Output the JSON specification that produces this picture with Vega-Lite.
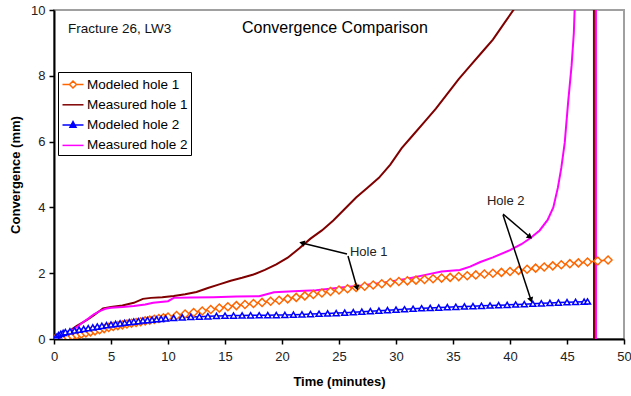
{
  "$schema": "https://vega.github.io/schema/vega-lite/v6.json",
  "width": 570,
  "height": 329,
  "autosize": {"type": "none"},
  "padding": {"left": 54, "top": 10, "right": 7, "bottom": 57},
  "config": {
    "font": "Liberation Sans",
    "view": {"stroke": "#a0a0a0", "strokeWidth": 2}
  },
  "datasets": {
    "curves": [
      {"series": "Measured hole 1", "t": 0, "mm": 0},
      {"series": "Measured hole 1", "t": 0.5, "mm": 0.08},
      {"series": "Measured hole 1", "t": 1, "mm": 0.18},
      {"series": "Measured hole 1", "t": 1.5, "mm": 0.28},
      {"series": "Measured hole 1", "t": 2, "mm": 0.4},
      {"series": "Measured hole 1", "t": 2.5, "mm": 0.5},
      {"series": "Measured hole 1", "t": 3, "mm": 0.6},
      {"series": "Measured hole 1", "t": 3.5, "mm": 0.72},
      {"series": "Measured hole 1", "t": 4, "mm": 0.85},
      {"series": "Measured hole 1", "t": 4.3, "mm": 0.93},
      {"series": "Measured hole 1", "t": 5, "mm": 0.97},
      {"series": "Measured hole 1", "t": 6, "mm": 1.02},
      {"series": "Measured hole 1", "t": 7, "mm": 1.1},
      {"series": "Measured hole 1", "t": 7.8, "mm": 1.22},
      {"series": "Measured hole 1", "t": 8.5, "mm": 1.25},
      {"series": "Measured hole 1", "t": 9.5, "mm": 1.27},
      {"series": "Measured hole 1", "t": 10.5, "mm": 1.31},
      {"series": "Measured hole 1", "t": 11.5, "mm": 1.36},
      {"series": "Measured hole 1", "t": 12.5, "mm": 1.43},
      {"series": "Measured hole 1", "t": 13.5, "mm": 1.55},
      {"series": "Measured hole 1", "t": 14.5, "mm": 1.66},
      {"series": "Measured hole 1", "t": 15.5, "mm": 1.77},
      {"series": "Measured hole 1", "t": 16.5, "mm": 1.86},
      {"series": "Measured hole 1", "t": 17.5, "mm": 1.96},
      {"series": "Measured hole 1", "t": 18.5, "mm": 2.1},
      {"series": "Measured hole 1", "t": 19.5, "mm": 2.27},
      {"series": "Measured hole 1", "t": 20.5, "mm": 2.47},
      {"series": "Measured hole 1", "t": 21.5, "mm": 2.75},
      {"series": "Measured hole 1", "t": 22.5, "mm": 3.05},
      {"series": "Measured hole 1", "t": 23.5, "mm": 3.3},
      {"series": "Measured hole 1", "t": 24.5, "mm": 3.6},
      {"series": "Measured hole 1", "t": 25.5, "mm": 3.95},
      {"series": "Measured hole 1", "t": 26.5, "mm": 4.3},
      {"series": "Measured hole 1", "t": 27.5, "mm": 4.6},
      {"series": "Measured hole 1", "t": 28.5, "mm": 4.9},
      {"series": "Measured hole 1", "t": 29.5, "mm": 5.3},
      {"series": "Measured hole 1", "t": 30.5, "mm": 5.8},
      {"series": "Measured hole 1", "t": 31.5, "mm": 6.2},
      {"series": "Measured hole 1", "t": 32.5, "mm": 6.6},
      {"series": "Measured hole 1", "t": 33.5, "mm": 7.0},
      {"series": "Measured hole 1", "t": 34.5, "mm": 7.45},
      {"series": "Measured hole 1", "t": 35.5, "mm": 7.9},
      {"series": "Measured hole 1", "t": 36.5, "mm": 8.3},
      {"series": "Measured hole 1", "t": 37.5, "mm": 8.7},
      {"series": "Measured hole 1", "t": 38.5, "mm": 9.1},
      {"series": "Measured hole 1", "t": 39.5, "mm": 9.6},
      {"series": "Measured hole 1", "t": 40.5, "mm": 10.1},
      {"series": "Measured hole 1", "t": 41.5, "mm": 10.6},
      {"series": "Measured hole 1", "t": 47.36, "mm": 14},
      {"series": "Measured hole 1", "t": 47.37, "mm": -1},

      {"series": "Measured hole 2", "t": 0, "mm": 0},
      {"series": "Measured hole 2", "t": 0.5, "mm": 0.07},
      {"series": "Measured hole 2", "t": 1, "mm": 0.15},
      {"series": "Measured hole 2", "t": 1.5, "mm": 0.25},
      {"series": "Measured hole 2", "t": 2, "mm": 0.36},
      {"series": "Measured hole 2", "t": 2.5, "mm": 0.5},
      {"series": "Measured hole 2", "t": 3, "mm": 0.62},
      {"series": "Measured hole 2", "t": 3.5, "mm": 0.75},
      {"series": "Measured hole 2", "t": 4, "mm": 0.85},
      {"series": "Measured hole 2", "t": 4.5, "mm": 0.92},
      {"series": "Measured hole 2", "t": 5, "mm": 0.95},
      {"series": "Measured hole 2", "t": 6, "mm": 0.97},
      {"series": "Measured hole 2", "t": 7, "mm": 1.0},
      {"series": "Measured hole 2", "t": 8, "mm": 1.05},
      {"series": "Measured hole 2", "t": 8.7, "mm": 1.1},
      {"series": "Measured hole 2", "t": 10, "mm": 1.15},
      {"series": "Measured hole 2", "t": 10.5, "mm": 1.25},
      {"series": "Measured hole 2", "t": 12, "mm": 1.26},
      {"series": "Measured hole 2", "t": 14, "mm": 1.27},
      {"series": "Measured hole 2", "t": 16, "mm": 1.29},
      {"series": "Measured hole 2", "t": 18, "mm": 1.3},
      {"series": "Measured hole 2", "t": 19.3, "mm": 1.42},
      {"series": "Measured hole 2", "t": 21, "mm": 1.45},
      {"series": "Measured hole 2", "t": 23, "mm": 1.48},
      {"series": "Measured hole 2", "t": 25, "mm": 1.56},
      {"series": "Measured hole 2", "t": 27, "mm": 1.63},
      {"series": "Measured hole 2", "t": 29, "mm": 1.72},
      {"series": "Measured hole 2", "t": 31, "mm": 1.83},
      {"series": "Measured hole 2", "t": 33, "mm": 1.98},
      {"series": "Measured hole 2", "t": 34, "mm": 2.05},
      {"series": "Measured hole 2", "t": 35.6, "mm": 2.1},
      {"series": "Measured hole 2", "t": 36.5, "mm": 2.2},
      {"series": "Measured hole 2", "t": 37.4, "mm": 2.34},
      {"series": "Measured hole 2", "t": 38.5, "mm": 2.48},
      {"series": "Measured hole 2", "t": 40, "mm": 2.7},
      {"series": "Measured hole 2", "t": 41, "mm": 2.88},
      {"series": "Measured hole 2", "t": 41.8, "mm": 3.07},
      {"series": "Measured hole 2", "t": 42.6, "mm": 3.3},
      {"series": "Measured hole 2", "t": 43.3, "mm": 3.62},
      {"series": "Measured hole 2", "t": 43.8, "mm": 4.0},
      {"series": "Measured hole 2", "t": 44.2, "mm": 4.6},
      {"series": "Measured hole 2", "t": 44.5, "mm": 5.2},
      {"series": "Measured hole 2", "t": 44.8, "mm": 5.96},
      {"series": "Measured hole 2", "t": 45.1, "mm": 7.2},
      {"series": "Measured hole 2", "t": 45.4, "mm": 8.3},
      {"series": "Measured hole 2", "t": 45.6, "mm": 9.3},
      {"series": "Measured hole 2", "t": 45.7, "mm": 10.3},
      {"series": "Measured hole 2", "t": 47.53, "mm": 30},
      {"series": "Measured hole 2", "t": 47.54, "mm": -1},

      {"series": "Modeled hole 1", "t": 0, "mm": 0},
      {"series": "Modeled hole 1", "t": 0.4, "mm": 0.02},
      {"series": "Modeled hole 1", "t": 0.8, "mm": 0.04},
      {"series": "Modeled hole 1", "t": 1.2, "mm": 0.064},
      {"series": "Modeled hole 1", "t": 1.6, "mm": 0.092},
      {"series": "Modeled hole 1", "t": 2.0, "mm": 0.12},
      {"series": "Modeled hole 1", "t": 2.4, "mm": 0.152},
      {"series": "Modeled hole 1", "t": 2.8, "mm": 0.184},
      {"series": "Modeled hole 1", "t": 3.2, "mm": 0.216},
      {"series": "Modeled hole 1", "t": 3.6, "mm": 0.248},
      {"series": "Modeled hole 1", "t": 4.0, "mm": 0.28},
      {"series": "Modeled hole 1", "t": 4.4, "mm": 0.316},
      {"series": "Modeled hole 1", "t": 4.8, "mm": 0.352},
      {"series": "Modeled hole 1", "t": 5.2, "mm": 0.382},
      {"series": "Modeled hole 1", "t": 5.6, "mm": 0.406},
      {"series": "Modeled hole 1", "t": 6.0, "mm": 0.43},
      {"series": "Modeled hole 1", "t": 6.4, "mm": 0.454},
      {"series": "Modeled hole 1", "t": 6.8, "mm": 0.478},
      {"series": "Modeled hole 1", "t": 7.2, "mm": 0.502},
      {"series": "Modeled hole 1", "t": 7.6, "mm": 0.526},
      {"series": "Modeled hole 1", "t": 8.0, "mm": 0.55},
      {"series": "Modeled hole 1", "t": 8.4, "mm": 0.574},
      {"series": "Modeled hole 1", "t": 8.8, "mm": 0.598},
      {"series": "Modeled hole 1", "t": 9.2, "mm": 0.622},
      {"series": "Modeled hole 1", "t": 9.6, "mm": 0.646},
      {"series": "Modeled hole 1", "t": 10.0, "mm": 0.67},
      {"series": "Modeled hole 1", "t": 10.75, "mm": 0.715},
      {"series": "Modeled hole 1", "t": 11.5, "mm": 0.76},
      {"series": "Modeled hole 1", "t": 12.25, "mm": 0.805},
      {"series": "Modeled hole 1", "t": 13.0, "mm": 0.85},
      {"series": "Modeled hole 1", "t": 13.75, "mm": 0.895},
      {"series": "Modeled hole 1", "t": 14.5, "mm": 0.94},
      {"series": "Modeled hole 1", "t": 15.25, "mm": 0.981},
      {"series": "Modeled hole 1", "t": 16.0, "mm": 1.015},
      {"series": "Modeled hole 1", "t": 16.75, "mm": 1.049},
      {"series": "Modeled hole 1", "t": 17.5, "mm": 1.08},
      {"series": "Modeled hole 1", "t": 18.25, "mm": 1.112},
      {"series": "Modeled hole 1", "t": 19.0, "mm": 1.147},
      {"series": "Modeled hole 1", "t": 19.75, "mm": 1.179},
      {"series": "Modeled hole 1", "t": 20.5, "mm": 1.22},
      {"series": "Modeled hole 1", "t": 21.25, "mm": 1.265},
      {"series": "Modeled hole 1", "t": 22.0, "mm": 1.31},
      {"series": "Modeled hole 1", "t": 22.75, "mm": 1.355},
      {"series": "Modeled hole 1", "t": 23.5, "mm": 1.4},
      {"series": "Modeled hole 1", "t": 24.25, "mm": 1.445},
      {"series": "Modeled hole 1", "t": 25.0, "mm": 1.49},
      {"series": "Modeled hole 1", "t": 25.75, "mm": 1.528},
      {"series": "Modeled hole 1", "t": 26.5, "mm": 1.565},
      {"series": "Modeled hole 1", "t": 27.25, "mm": 1.602},
      {"series": "Modeled hole 1", "t": 28.0, "mm": 1.64},
      {"series": "Modeled hole 1", "t": 28.75, "mm": 1.678},
      {"series": "Modeled hole 1", "t": 29.5, "mm": 1.715},
      {"series": "Modeled hole 1", "t": 30.25, "mm": 1.747},
      {"series": "Modeled hole 1", "t": 31.0, "mm": 1.768},
      {"series": "Modeled hole 1", "t": 31.75, "mm": 1.789},
      {"series": "Modeled hole 1", "t": 32.5, "mm": 1.81},
      {"series": "Modeled hole 1", "t": 33.25, "mm": 1.831},
      {"series": "Modeled hole 1", "t": 34.0, "mm": 1.852},
      {"series": "Modeled hole 1", "t": 34.75, "mm": 1.873},
      {"series": "Modeled hole 1", "t": 35.5, "mm": 1.897},
      {"series": "Modeled hole 1", "t": 36.25, "mm": 1.923},
      {"series": "Modeled hole 1", "t": 37.0, "mm": 1.948},
      {"series": "Modeled hole 1", "t": 37.75, "mm": 1.974},
      {"series": "Modeled hole 1", "t": 38.5, "mm": 1.999},
      {"series": "Modeled hole 1", "t": 39.25, "mm": 2.025},
      {"series": "Modeled hole 1", "t": 40.0, "mm": 2.05},
      {"series": "Modeled hole 1", "t": 40.75, "mm": 2.085},
      {"series": "Modeled hole 1", "t": 41.5, "mm": 2.119},
      {"series": "Modeled hole 1", "t": 42.25, "mm": 2.154},
      {"series": "Modeled hole 1", "t": 43.0, "mm": 2.188},
      {"series": "Modeled hole 1", "t": 43.75, "mm": 2.223},
      {"series": "Modeled hole 1", "t": 44.5, "mm": 2.257},
      {"series": "Modeled hole 1", "t": 45.25, "mm": 2.29},
      {"series": "Modeled hole 1", "t": 46.0, "mm": 2.313},
      {"series": "Modeled hole 1", "t": 46.8, "mm": 2.34},
      {"series": "Modeled hole 1", "t": 47.7, "mm": 2.37},
      {"series": "Modeled hole 1", "t": 48.6, "mm": 2.4},

      {"series": "Modeled hole 2", "t": 0, "mm": 0},
      {"series": "Modeled hole 2", "t": 0.2, "mm": 0.067},
      {"series": "Modeled hole 2", "t": 0.4, "mm": 0.12},
      {"series": "Modeled hole 2", "t": 0.6, "mm": 0.16},
      {"series": "Modeled hole 2", "t": 0.8, "mm": 0.185},
      {"series": "Modeled hole 2", "t": 1.0, "mm": 0.21},
      {"series": "Modeled hole 2", "t": 1.4, "mm": 0.234},
      {"series": "Modeled hole 2", "t": 1.8, "mm": 0.258},
      {"series": "Modeled hole 2", "t": 2.2, "mm": 0.282},
      {"series": "Modeled hole 2", "t": 2.6, "mm": 0.306},
      {"series": "Modeled hole 2", "t": 3.0, "mm": 0.33},
      {"series": "Modeled hole 2", "t": 3.4, "mm": 0.354},
      {"series": "Modeled hole 2", "t": 3.8, "mm": 0.378},
      {"series": "Modeled hole 2", "t": 4.2, "mm": 0.4},
      {"series": "Modeled hole 2", "t": 4.6, "mm": 0.42},
      {"series": "Modeled hole 2", "t": 5.0, "mm": 0.44},
      {"series": "Modeled hole 2", "t": 5.4, "mm": 0.458},
      {"series": "Modeled hole 2", "t": 5.8, "mm": 0.476},
      {"series": "Modeled hole 2", "t": 6.2, "mm": 0.494},
      {"series": "Modeled hole 2", "t": 6.6, "mm": 0.512},
      {"series": "Modeled hole 2", "t": 7.0, "mm": 0.53},
      {"series": "Modeled hole 2", "t": 7.4, "mm": 0.546},
      {"series": "Modeled hole 2", "t": 7.8, "mm": 0.562},
      {"series": "Modeled hole 2", "t": 8.2, "mm": 0.576},
      {"series": "Modeled hole 2", "t": 8.6, "mm": 0.588},
      {"series": "Modeled hole 2", "t": 9.0, "mm": 0.6},
      {"series": "Modeled hole 2", "t": 9.4, "mm": 0.612},
      {"series": "Modeled hole 2", "t": 9.8, "mm": 0.624},
      {"series": "Modeled hole 2", "t": 10.5, "mm": 0.64},
      {"series": "Modeled hole 2", "t": 11.25, "mm": 0.655},
      {"series": "Modeled hole 2", "t": 12.0, "mm": 0.67},
      {"series": "Modeled hole 2", "t": 12.75, "mm": 0.68},
      {"series": "Modeled hole 2", "t": 13.5, "mm": 0.69},
      {"series": "Modeled hole 2", "t": 14.25, "mm": 0.7},
      {"series": "Modeled hole 2", "t": 15.0, "mm": 0.71},
      {"series": "Modeled hole 2", "t": 15.75, "mm": 0.713},
      {"series": "Modeled hole 2", "t": 16.5, "mm": 0.716},
      {"series": "Modeled hole 2", "t": 17.25, "mm": 0.719},
      {"series": "Modeled hole 2", "t": 18.0, "mm": 0.722},
      {"series": "Modeled hole 2", "t": 18.75, "mm": 0.725},
      {"series": "Modeled hole 2", "t": 19.5, "mm": 0.728},
      {"series": "Modeled hole 2", "t": 20.25, "mm": 0.733},
      {"series": "Modeled hole 2", "t": 21.0, "mm": 0.74},
      {"series": "Modeled hole 2", "t": 21.75, "mm": 0.748},
      {"series": "Modeled hole 2", "t": 22.5, "mm": 0.757},
      {"series": "Modeled hole 2", "t": 23.25, "mm": 0.767},
      {"series": "Modeled hole 2", "t": 24.0, "mm": 0.777},
      {"series": "Modeled hole 2", "t": 24.75, "mm": 0.787},
      {"series": "Modeled hole 2", "t": 25.5, "mm": 0.8},
      {"series": "Modeled hole 2", "t": 26.25, "mm": 0.815},
      {"series": "Modeled hole 2", "t": 27.0, "mm": 0.83},
      {"series": "Modeled hole 2", "t": 27.75, "mm": 0.845},
      {"series": "Modeled hole 2", "t": 28.5, "mm": 0.86},
      {"series": "Modeled hole 2", "t": 29.25, "mm": 0.875},
      {"series": "Modeled hole 2", "t": 30.0, "mm": 0.89},
      {"series": "Modeled hole 2", "t": 30.75, "mm": 0.905},
      {"series": "Modeled hole 2", "t": 31.5, "mm": 0.92},
      {"series": "Modeled hole 2", "t": 32.25, "mm": 0.934},
      {"series": "Modeled hole 2", "t": 33.0, "mm": 0.945},
      {"series": "Modeled hole 2", "t": 33.75, "mm": 0.956},
      {"series": "Modeled hole 2", "t": 34.5, "mm": 0.968},
      {"series": "Modeled hole 2", "t": 35.25, "mm": 0.979},
      {"series": "Modeled hole 2", "t": 36.0, "mm": 0.99},
      {"series": "Modeled hole 2", "t": 36.75, "mm": 0.999},
      {"series": "Modeled hole 2", "t": 37.5, "mm": 1.009},
      {"series": "Modeled hole 2", "t": 38.25, "mm": 1.018},
      {"series": "Modeled hole 2", "t": 39.0, "mm": 1.028},
      {"series": "Modeled hole 2", "t": 39.75, "mm": 1.037},
      {"series": "Modeled hole 2", "t": 40.5, "mm": 1.048},
      {"series": "Modeled hole 2", "t": 41.25, "mm": 1.06},
      {"series": "Modeled hole 2", "t": 42.0, "mm": 1.072},
      {"series": "Modeled hole 2", "t": 42.75, "mm": 1.084},
      {"series": "Modeled hole 2", "t": 43.5, "mm": 1.096},
      {"series": "Modeled hole 2", "t": 44.25, "mm": 1.108},
      {"series": "Modeled hole 2", "t": 45.0, "mm": 1.12},
      {"series": "Modeled hole 2", "t": 45.75, "mm": 1.128},
      {"series": "Modeled hole 2", "t": 46.5, "mm": 1.136},
      {"series": "Modeled hole 2", "t": 46.8, "mm": 1.14}
    ],
    "notes": [
      {"kind": "subtitle", "label": "Fracture 26, LW3", "t": 1.23, "mm": 9.316},
      {"kind": "title", "label": "Convergence Comparison", "t": 16.49, "mm": 9.316},
      {"kind": "callout", "label": "Hole 1", "t": 25.96, "mm": 2.644},
      {"kind": "callout", "label": "Hole 2", "t": 37.98, "mm": 4.19}
    ],
    "arrows": [
      {"arrow": 1, "t": 25.7, "mm": 2.584, "t2": 21.75, "mm2": 2.918},
      {"arrow": 2, "t": 25.79, "mm": 2.523, "t2": 26.58, "mm2": 1.55},
      {"arrow": 3, "t": 39.39, "mm": 3.799, "t2": 41.75, "mm2": 3.1},
      {"arrow": 4, "t": 39.39, "mm": 3.769, "t2": 41.84, "mm2": 1.185}
    ]
  },
  "layer": [
    {
      "data": {"name": "curves"},
      "transform": [{"filter": {"field": "series", "equal": "Measured hole 1"}}],
      "mark": {"type": "line", "strokeWidth": 2, "clip": true, "color": "#800000"},
      "encoding": {
        "x": {
          "field": "t", "type": "quantitative",
          "scale": {"domain": [0, 50], "nice": false},
          "axis": {
            "title": "Time (minutes)", "values": [0, 5, 10, 15, 20, 25, 30, 35, 40, 45, 50],
            "grid": false, "labelFlush": false, "labelFont": "Liberation Sans", "labelFontSize": 13,
            "labelColor": "#222", "labelPadding": 6, "tickSize": 5, "tickColor": "#000", "tickWidth": 1.5,
            "domainColor": "#000", "domainWidth": 2, "titleFont": "Liberation Sans", "titleFontSize": 13,
            "titleFontWeight": "bold", "titleColor": "#000", "titlePadding": 12
          }
        },
        "y": {
          "field": "mm", "type": "quantitative",
          "scale": {"domain": [0, 10], "nice": false},
          "axis": {
            "title": "Convergence (mm)", "values": [0, 2, 4, 6, 8, 10],
            "grid": false, "labelFont": "Liberation Sans", "labelFontSize": 13, "labelColor": "#222",
            "labelPadding": 4, "tickSize": 5, "tickColor": "#000", "tickWidth": 1.5,
            "domainColor": "#000", "domainWidth": 2, "titleFont": "Liberation Sans", "titleFontSize": 13,
            "titleFontWeight": "bold", "titleColor": "#000", "titlePadding": 8
          }
        }
      }
    },
    {
      "data": {"name": "curves"},
      "transform": [{"filter": {"field": "series", "equal": "Measured hole 2"}}],
      "mark": {"type": "line", "strokeWidth": 2, "clip": true, "color": "#FF00FF"},
      "encoding": {
        "x": {"field": "t", "type": "quantitative"},
        "y": {"field": "mm", "type": "quantitative"}
      }
    },
    {
      "data": {"name": "curves"},
      "transform": [{"filter": {"field": "series", "equal": "Modeled hole 1"}}],
      "mark": {"type": "line", "strokeWidth": 1.5, "clip": true, "color": "#FF6600"},
      "encoding": {
        "x": {"field": "t", "type": "quantitative"},
        "y": {"field": "mm", "type": "quantitative"}
      }
    },
    {
      "data": {"name": "curves"},
      "transform": [{"filter": {"field": "series", "equal": "Modeled hole 2"}}],
      "mark": {"type": "line", "strokeWidth": 1.5, "clip": true, "color": "#0000FF"},
      "encoding": {
        "x": {"field": "t", "type": "quantitative"},
        "y": {"field": "mm", "type": "quantitative"}
      }
    },
    {
      "data": {"name": "curves"},
      "transform": [{"filter": {"field": "series", "equal": "Modeled hole 1"}}],
      "mark": {"type": "point", "shape": "diamond", "size": 64, "filled": false, "fill": "#ffffff", "fillOpacity": 1, "stroke": "#FF6600", "strokeWidth": 1.5, "opacity": 1, "clip": true},
      "encoding": {
        "x": {"field": "t", "type": "quantitative"},
        "y": {"field": "mm", "type": "quantitative"}
      }
    },
    {
      "data": {"name": "curves"},
      "transform": [{"filter": {"field": "series", "equal": "Modeled hole 2"}}],
      "mark": {"type": "point", "shape": "triangle-up", "size": 36, "filled": false, "fill": "#ffffff", "fillOpacity": 1, "stroke": "#0000FF", "strokeWidth": 1.5, "opacity": 1, "clip": true},
      "encoding": {
        "x": {"field": "t", "type": "quantitative"},
        "y": {"field": "mm", "type": "quantitative"}
      }
    },
    {
      "description": "Invisible points (one per series at t = 0) that carry the series legend: line swatch plus marker.",
      "data": {"name": "curves"},
      "transform": [{"filter": "datum.t === 0"}],
      "mark": {"type": "point", "filled": false, "opacity": 0},
      "encoding": {
        "x": {"field": "t", "type": "quantitative"},
        "y": {"field": "mm", "type": "quantitative"},
        "color": {
          "field": "series", "type": "nominal",
          "scale": {
            "domain": ["Modeled hole 1", "Measured hole 1", "Modeled hole 2", "Measured hole 2"],
            "range": ["#FF6600", "#800000", "#0000FF", "#FF00FF"]
          },
          "legend": {
            "title": null, "orient": "none", "legendX": 4, "legendY": 62, "direction": "vertical",
            "labelFont": "Liberation Sans", "labelFontSize": 13.5, "labelColor": "#000",
            "symbolSize": 289, "symbolOffset": 2.5, "labelOffset": 4.5, "rowPadding": 4.3, "padding": 3,
            "strokeColor": "#000", "fillColor": "#ffffff", "symbolFillColor": "#ffffff",
            "symbolStrokeWidth": 1.5, "symbolOpacity": 1
          }
        },
        "fill": {
          "field": "series", "type": "nominal",
          "scale": {
            "domain": ["Modeled hole 1", "Measured hole 1", "Modeled hole 2", "Measured hole 2"],
            "range": ["#ffffff", "transparent", "#0000FF", "transparent"]
          },
          "legend": {
            "title": null, "orient": "none", "legendX": 4, "legendY": 62, "direction": "vertical",
            "labelFont": "Liberation Sans", "labelFontSize": 13.5, "labelColor": "#000",
            "symbolSize": 289, "symbolOffset": 2.5, "labelOffset": 4.5, "rowPadding": 4.3, "padding": 3,
            "strokeColor": "#000", "fillColor": "#ffffff", "symbolFillColor": "#ffffff",
            "symbolStrokeWidth": 1.5, "symbolOpacity": 1
          }
        },
        "shape": {
          "field": "series", "type": "nominal",
          "scale": {
            "domain": ["Modeled hole 1", "Measured hole 1", "Modeled hole 2", "Measured hole 2"],
            "range": [
              "M-1.235,0H-0.41M0.41,0H1.235M0,-0.41L0.41,0L0,0.41L-0.41,0Z",
              "M-1.235,0H1.235",
              "M-1.235,0H1.235M0,-0.4L0.35,0.25L-0.35,0.25Z",
              "M-1.235,0H1.235"
            ]
          },
          "legend": {
            "title": null, "orient": "none", "legendX": 4, "legendY": 62, "direction": "vertical",
            "labelFont": "Liberation Sans", "labelFontSize": 13.5, "labelColor": "#000",
            "symbolSize": 289, "symbolOffset": 2.5, "labelOffset": 4.5, "rowPadding": 4.3, "padding": 3,
            "strokeColor": "#000", "fillColor": "#ffffff", "symbolFillColor": "#ffffff",
            "symbolStrokeWidth": 1.5, "symbolOpacity": 1
          }
        }
      }
    },
    {
      "data": {"name": "arrows"},
      "mark": {"type": "rule", "color": "#000", "strokeWidth": 1.5},
      "encoding": {
        "x": {"field": "t", "type": "quantitative"},
        "y": {"field": "mm", "type": "quantitative"},
        "x2": {"field": "t2"},
        "y2": {"field": "mm2"}
      }
    },
    {
      "data": {"name": "arrows"},
      "transform": [{"filter": "datum.arrow === 1"}],
      "mark": {"type": "point", "shape": "triangle-up", "size": 40, "filled": true, "color": "#000", "opacity": 1, "angle": 283.5},
      "encoding": {"x": {"field": "t2", "type": "quantitative"}, "y": {"field": "mm2", "type": "quantitative"}}
    },
    {
      "data": {"name": "arrows"},
      "transform": [{"filter": "datum.arrow === 2"}],
      "mark": {"type": "point", "shape": "triangle-up", "size": 40, "filled": true, "color": "#000", "opacity": 1, "angle": 163},
      "encoding": {"x": {"field": "t2", "type": "quantitative"}, "y": {"field": "mm2", "type": "quantitative"}}
    },
    {
      "data": {"name": "arrows"},
      "transform": [{"filter": "datum.arrow === 3"}],
      "mark": {"type": "point", "shape": "triangle-up", "size": 40, "filled": true, "color": "#000", "opacity": 1, "angle": 129.4},
      "encoding": {"x": {"field": "t2", "type": "quantitative"}, "y": {"field": "mm2", "type": "quantitative"}}
    },
    {
      "data": {"name": "arrows"},
      "transform": [{"filter": "datum.arrow === 4"}],
      "mark": {"type": "point", "shape": "triangle-up", "size": 40, "filled": true, "color": "#000", "opacity": 1, "angle": 161.6},
      "encoding": {"x": {"field": "t2", "type": "quantitative"}, "y": {"field": "mm2", "type": "quantitative"}}
    },
    {
      "data": {"name": "notes"},
      "transform": [{"filter": "datum.kind === 'subtitle'"}],
      "mark": {"type": "text", "align": "left", "baseline": "alphabetic", "font": "Liberation Sans", "fontSize": 13.5, "color": "#111"},
      "encoding": {"x": {"field": "t", "type": "quantitative"}, "y": {"field": "mm", "type": "quantitative"}, "text": {"field": "label"}}
    },
    {
      "data": {"name": "notes"},
      "transform": [{"filter": "datum.kind === 'title'"}],
      "mark": {"type": "text", "align": "left", "baseline": "alphabetic", "font": "Liberation Sans", "fontSize": 16, "color": "#000"},
      "encoding": {"x": {"field": "t", "type": "quantitative"}, "y": {"field": "mm", "type": "quantitative"}, "text": {"field": "label"}}
    },
    {
      "data": {"name": "notes"},
      "transform": [{"filter": "datum.kind === 'callout'"}],
      "mark": {"type": "text", "align": "left", "baseline": "middle", "font": "Liberation Sans", "fontSize": 13, "color": "#222"},
      "encoding": {"x": {"field": "t", "type": "quantitative"}, "y": {"field": "mm", "type": "quantitative"}, "text": {"field": "label"}}
    }
  ]
}
